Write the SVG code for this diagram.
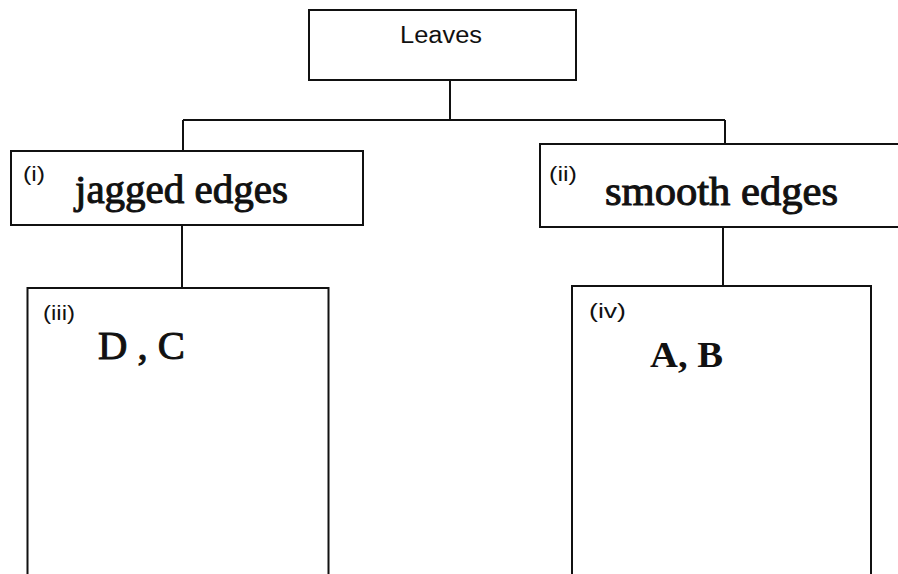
<svg xmlns="http://www.w3.org/2000/svg" width="898" height="574" viewBox="0 0 898 574">
<style>
.box{fill:#fff;stroke:#111;stroke-width:2}
.con{fill:none;stroke:#111;stroke-width:2}
.sans{font-family:"Liberation Sans",Arial,sans-serif;fill:#111}
.serif{font-family:"Liberation Serif","Times New Roman",serif;fill:#111}
.semi{stroke:#111;stroke-width:1}
.lbl{font-size:20px}
</style>
<rect width="898" height="574" fill="#fff"/>
<g id="connectors">
<line class="con" x1="450" y1="80" x2="450" y2="120"/>
<line class="con" x1="183" y1="120" x2="725" y2="120"/>
<line class="con" x1="183" y1="120" x2="183" y2="151"/>
<line class="con" x1="725" y1="120" x2="725" y2="144"/>
<line class="con" x1="182" y1="225" x2="182" y2="288"/>
<line class="con" x1="723" y1="227" x2="723" y2="286"/>
</g>
<g id="leaves">
<rect class="box" x="309" y="10" width="267" height="70"/>
<text class="sans" x="400" y="43" font-size="23" textLength="82" lengthAdjust="spacingAndGlyphs">Leaves</text>
</g>
<g id="jagged">
<rect class="box" x="11" y="151" width="352" height="74"/>
<text class="sans lbl" x="23" y="181" textLength="22" lengthAdjust="spacingAndGlyphs">(i)</text>
<text class="serif semi" x="75" y="203" font-size="40" textLength="213" lengthAdjust="spacingAndGlyphs">jagged edges</text>
</g>
<g id="smooth">
<rect class="box" x="540" y="144" width="362" height="83"/>
<text class="sans lbl" x="549" y="181" textLength="28" lengthAdjust="spacingAndGlyphs">(ii)</text>
<text class="serif semi" x="605" y="205" font-size="40" textLength="233" lengthAdjust="spacingAndGlyphs">smooth edges</text>
</g>
<g id="dc">
<rect class="box" x="27.5" y="288" width="301" height="300"/>
<text class="sans lbl" x="43" y="320" textLength="32" lengthAdjust="spacingAndGlyphs">(iii)</text>
<text class="serif semi" x="98" y="359" font-size="41" textLength="87" lengthAdjust="spacingAndGlyphs">D , C</text>
</g>
<g id="ab">
<rect class="box" x="572" y="286" width="299" height="300"/>
<text class="sans lbl" x="589" y="318" textLength="37" lengthAdjust="spacingAndGlyphs">(iv)</text>
<text class="serif" x="650" y="367" font-size="36" font-weight="bold" textLength="73" lengthAdjust="spacingAndGlyphs">A, B</text>
</g>
</svg>
